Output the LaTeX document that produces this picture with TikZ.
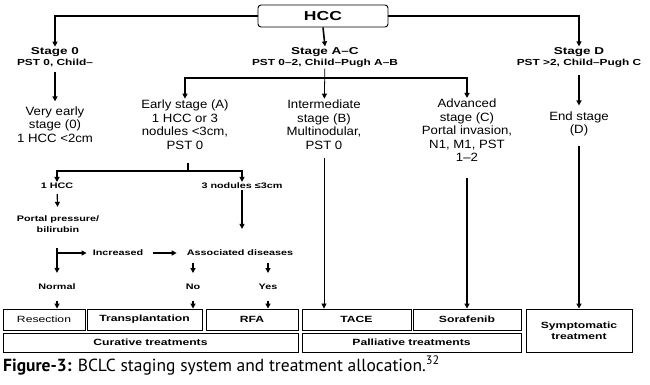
\documentclass[tikz,border=0pt]{standalone}
\usepackage{fontspec}
\usetikzlibrary{arrows.meta}
\newfontfamily\diagwide[FakeStretch=1.35]{Liberation Sans}
\newfontfamily\diagtext[FakeStretch=1.1]{Liberation Sans}
\newfontfamily\capfont{PT Sans}
\newcommand\pstsize{\fontsize{8.8}{10}\selectfont}
\tikzset{
  stage/.style={align=center, inner sep=1pt, font=\diagwide\bfseries\fontsize{10}{11}\selectfont},
  desc/.style={align=center, inner sep=1pt, font=\diagtext\fontsize{12}{13.5}\selectfont},
  small/.style={align=center, inner sep=1pt, font=\diagwide\bfseries\fontsize{8}{11}\selectfont},
  treat/.style={draw, line width=0.9pt, inner sep=0pt, align=center, minimum height=21pt, font=\diagwide\bfseries\fontsize{9}{11}\selectfont},
  main/.style={->, line width=1.6pt},
  mid/.style={->, line width=1.2pt},
  thinline/.style={->, line width=0.8pt}
}
\begin{document}
\begin{tikzpicture}[x=1pt, y=-1pt, >={Triangle[length=5pt,width=5pt]}]
\useasboundingbox (0,0) rectangle (650,385);
% staging
\node[draw, rounded corners=3pt, line width=0.9pt, minimum width=130pt, minimum height=22pt, font=\diagwide\bfseries\fontsize{13}{14}\selectfont] (hcc) at (323,16) {HCC};
\node[stage] (s0) at (55,57.5) {Stage 0\\{\pstsize PST 0, Child–}};
\node[stage] (sAC) at (325,57.5) {Stage A–C\\{\pstsize PST 0–2, Child–Pugh A–B}};
\node[stage] (sD) at (579,57.5) {Stage D\\{\pstsize PST >2, Child–Pugh C}};
\node[desc] (v0) at (55,124.5) {Very early\\stage (0)\\1 HCC <2cm};
\node[desc] (eA) at (185,124.5) {Early stage (A)\\1 HCC or 3\\nodules <3cm,\\PST 0};
\node[desc] (iB) at (324,124.5) {Intermediate\\stage (B)\\Multinodular,\\PST 0};
\node[desc] (aC) at (467,130.5) {Advanced\\stage (C)\\Portal invasion,\\N1, M1, PST\\1–2};
\node[desc] (eD) at (579,124) {End stage\\(D)};
% curative branch
\node[small] (one) at (57,186) {1 HCC};
\node[small] (three) at (242,186) {3 nodules ≤3cm};
\node[small] (portal) at (58,224.5) {Portal pressure/\\bilirubin};
\node[small] (incr) at (118,253) {Increased};
\node[small] (assoc) at (240,253) {Associated diseases};
\node[small] (normal) at (57,287) {Normal};
\node[small] (no) at (193,287) {No};
\node[small] (yes) at (268,287) {Yes};
% treatments
\node[treat, minimum width=82pt, font=\diagwide\fontsize{9}{11}\selectfont] (res) at (44,319.5) {Resection};
\node[treat, minimum width=115pt] (trans) at (144.5,319.5) {Transplantation};
\node[treat, minimum width=92pt] (rfa) at (252,319.5) {RFA};
\node[treat, minimum width=109pt] (tace) at (356.5,319.5) {TACE};
\node[treat, minimum width=108pt] (sora) at (467,319.5) {Sorafenib};
\node[treat, minimum width=295pt, minimum height=19pt] (cur) at (150.5,342.5) {Curative treatments};
\node[treat, minimum width=219pt, minimum height=19pt] (pal) at (411.5,342.5) {Palliative treatments};
\node[treat, minimum width=106pt, minimum height=43pt] (sym) at (579,330.5) {Symptomatic\\treatment};
\node[anchor=base west, inner sep=0pt, font=\capfont\fontsize{17.5}{20}\selectfont] (cap) at (3,371) {\textbf{Figure-3:} BCLC staging system and treatment allocation.\textsuperscript{32}};
% connectors
\draw[main] (hcc.west) -| (s0.north);
\draw[main] (hcc.east) -| (sD.north);
\draw[main] (hcc.south) -- (sAC.north);
\draw[main, shorten <=4pt, shorten >=4pt] (s0) -- (v0);
\draw[main, shorten <=6pt, shorten >=5pt] (sD) -- (eD);
\coordinate (jAC) at (325,78);
\draw[mid] (jAC) -| (eA.north);
\draw[mid] (jAC) -| (aC.north);
\draw[thinline] (sAC) -- (iB);
\coordinate (jA) at (188,171);
\draw[line width=1.2pt] (jA) -- ++(0,-8);
\draw[mid] (jA) -| (one.north);
\draw[mid] (jA) -| (three.north);
\draw[mid, shorten <=4pt, shorten >=8pt] (one) -- (portal);
\draw[mid, shorten >=20pt] (three.south) -- (three.south |- assoc.north);
\coordinate (pTop) at (57,248);
\coordinate (pBr) at (57,253);
\draw[mid, shorten >=10pt] (pTop) -- (normal);
\draw[mid, shorten >=5pt] (pBr) -- (incr.west);
\draw[mid, shorten <=9pt, shorten >=9pt] (incr) -- (assoc);
\draw[mid, shorten <=6pt, shorten >=10pt] (assoc.south -| no) -- (no);
\draw[mid, shorten <=6pt, shorten >=10pt] (assoc.south -| yes) -- (yes);
\draw[mid, shorten <=10pt] (normal) -- (normal |- res.north);
\draw[mid, shorten <=10pt] (no) -- (no |- trans.north);
\draw[mid, shorten <=10pt] (yes) -- (yes |- rfa.north);
\draw[thinline, shorten <=8pt] (iB) -- (iB |- tace.north);
\draw[main, shorten <=15pt] (aC) -- (aC |- sora.north);
\draw[main, shorten <=8pt] (eD) -- (eD |- sym.north);
\end{tikzpicture}
\end{document}
